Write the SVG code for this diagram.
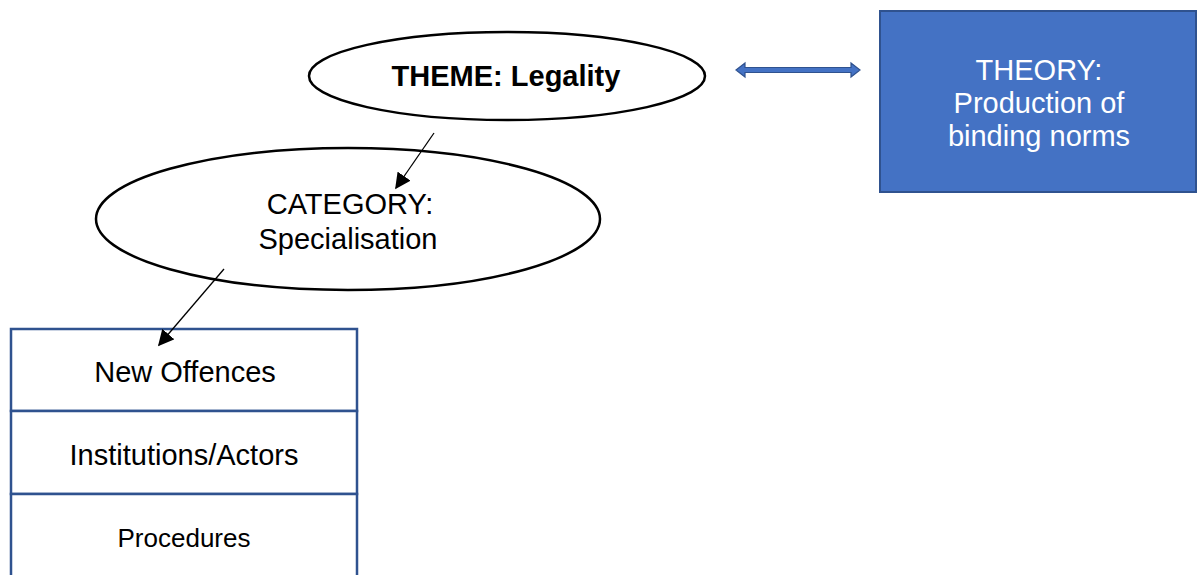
<svg xmlns="http://www.w3.org/2000/svg" width="1197" height="575" viewBox="0 0 1197 575">
<style>
text{font-family:"Liberation Sans",Arial,sans-serif;font-size:29px;text-anchor:middle;fill:#000}
.ell{fill:#fff;stroke:#000;stroke-width:2.5}
.cell{fill:#fff;stroke:#2F528F;stroke-width:2.5}
.conn{stroke:#000;stroke-width:1.3;fill:none;marker-end:url(#ah)}
</style>
<defs>
<marker id="ah" viewBox="0 0 10 10" refX="9" refY="5" markerWidth="16" markerHeight="16" markerUnits="userSpaceOnUse" orient="auto">
<path d="M0,0 L10,5 L0,10 z" fill="#000"/>
</marker>
</defs>
<rect width="1197" height="575" fill="#fff"/>
<g id="theme">
<ellipse class="ell" cx="507" cy="76" rx="198" ry="44"/>
<text x="506" y="86" font-weight="bold">THEME: Legality</text>
</g>
<g id="category">
<ellipse class="ell" cx="348" cy="219" rx="252" ry="71"/>
<text x="350" y="214">CATEGORY:</text>
<text x="348" y="249">Specialisation</text>
</g>
<g id="theory">
<rect x="880" y="11" width="316" height="181" fill="#4472C4" stroke="#2F528F" stroke-width="2"/>
<text x="1039" y="80" style="fill:#fff">THEORY:</text>
<text x="1039" y="113" style="fill:#fff">Production of</text>
<text x="1039" y="146" style="fill:#fff">binding norms</text>
</g>
<g id="new-offences">
<rect class="cell" x="11" y="329" width="346" height="82"/>
<text x="185" y="382">New Offences</text>
</g>
<g id="institutions">
<rect class="cell" x="11" y="411" width="346" height="83"/>
<text x="184" y="465">Institutions/Actors</text>
</g>
<g id="procedures">
<rect class="cell" x="11" y="494" width="346" height="90"/>
<text x="184" y="547" style="font-size:26px">Procedures</text>
</g>
<g id="connectors">
<line class="conn" x1="434" y1="133" x2="396" y2="188"/>
<line class="conn" x1="224" y1="269" x2="159" y2="345"/>
<path d="M736,70 L745,63 L745,67.5 L851,67.5 L851,63 L860,70 L851,77 L851,72.5 L745,72.5 L745,77 z" fill="#4472C4" stroke="#2F528F" stroke-width="1.2"/>
</g>
</svg>
